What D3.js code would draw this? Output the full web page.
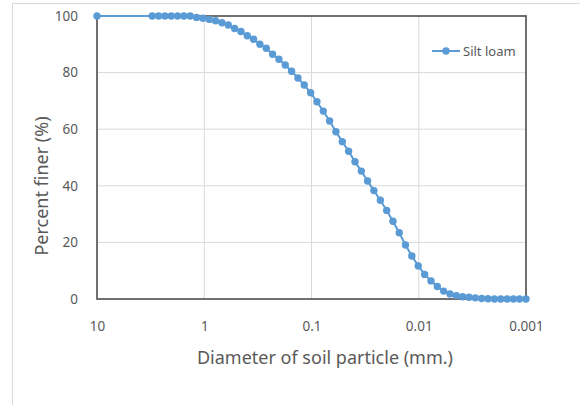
<!DOCTYPE html>
<html>
<head>
<meta charset="utf-8">
<script src="https://cdn.jsdelivr.net/npm/d3@7"></script>
<style>
  body { margin: 0; background: #fff; }
  text { font-family: "Noto Sans", "Open Sans", sans-serif; fill: #595959; }
</style>
</head>
<body>
<div id="chart"></div>
<script>
// diameter (mm) and percent finer
const diameters = [10,
  3.055, 2.666, 2.327, 2.032, 1.773, 1.547, 1.351, 1.179, 1.029, 0.898,
  0.784, 0.684, 0.597, 0.521, 0.455, 0.397, 0.347, 0.303, 0.264, 0.2305,
  0.2012, 0.1756, 0.1533, 0.1338, 0.1168, 0.1019, 0.0890, 0.0777, 0.0678, 0.0592,
  0.0516, 0.0451, 0.0393, 0.0343, 0.0300, 0.0262, 0.0228, 0.0199, 0.0174, 0.0152,
  0.0133, 0.0116, 0.0101, 0.00881, 0.00769, 0.00671, 0.00586, 0.00511, 0.00446, 0.00390,
  0.00340, 0.00297, 0.00259, 0.00226, 0.00197, 0.00172, 0.00150, 0.00131, 0.00115, 0.001];
const percentFiner = [100,
  100, 100, 100, 100, 100, 100, 100, 99.5, 99.2, 98.8,
  98.3, 97.6, 96.8, 95.6, 94.5, 93.0, 91.8, 90.0, 88.6, 86.5,
  84.7, 82.7, 80.5, 78.1, 75.6, 72.9, 69.7, 66.4, 62.9, 59.1,
  55.6, 52.2, 48.5, 45.2, 41.7, 38.3, 34.9, 31.3, 27.5, 23.4,
  19.1, 15.2, 11.7, 8.7, 6.4, 4.4, 2.8, 1.8, 1.2, 0.8,
  0.6, 0.4, 0.2, 0.1, 0, 0, 0, 0, 0, 0];
const xTicks = [10, 1, 0.1, 0.01, 0.001];
const xTickLabels = ["10", "1", "0.1", "0.01", "0.001"];
const yTicks = [0, 20, 40, 60, 80, 100];
const seriesName = "Silt loam";

const data = diameters.map((d, i) => ({ d: d, p: percentFiner[i] }));

const W = 580, H = 405;
const plotLeft = 97, plotRight = 526, plotTop = 16, plotBottom = 299;
const blue = "#5b9bd5";

const svg = d3.select("#chart").append("svg")
    .attr("width", W)
    .attr("height", H);

// chart area frame
svg.append("rect")
    .attr("x", 12.5).attr("y", 3.5)
    .attr("width", 600).attr("height", 450)
    .attr("fill", "#fff")
    .attr("stroke", "#d9d9d9");

const x = d3.scaleLog().domain([10, 0.001]).range([plotLeft, plotRight]);
const y = d3.scaleLinear().domain([0, 100]).range([plotBottom, plotTop]);

// grid
svg.append("g")
    .selectAll("line")
    .data(xTicks.slice(1, -1))
    .enter().append("line")
    .attr("x1", d => x(d)).attr("x2", d => x(d))
    .attr("y1", plotTop).attr("y2", plotBottom)
    .attr("stroke", "#d9d9d9").attr("stroke-width", 1);

svg.append("g")
    .selectAll("line")
    .data(yTicks.slice(1, -1))
    .enter().append("line")
    .attr("x1", plotLeft).attr("x2", plotRight)
    .attr("y1", d => y(d)).attr("y2", d => y(d))
    .attr("stroke", "#d9d9d9").attr("stroke-width", 1);

// plot border
svg.append("rect")
    .attr("x", plotLeft).attr("y", plotTop)
    .attr("width", plotRight - plotLeft).attr("height", plotBottom - plotTop)
    .attr("fill", "none")
    .attr("stroke", "#606060")
    .attr("stroke-width", 1.8);

// axes labels
const xAxis = d3.axisBottom(x)
    .tickValues(xTicks)
    .tickFormat((d, i) => xTickLabels[i])
    .tickSize(0).tickPadding(0);
const gx = svg.append("g")
    .attr("transform", "translate(0," + plotBottom + ")")
    .call(xAxis);
gx.select(".domain").remove();
gx.selectAll("text")
    .attr("y", 28).attr("dy", "0.32em")
    .style("font-size", "13.5px");

const yAxis = d3.axisLeft(y)
    .tickValues(yTicks)
    .tickSize(0).tickPadding(0);
const gy = svg.append("g")
    .attr("transform", "translate(78,0)")
    .call(yAxis);
gy.select(".domain").remove();
gy.selectAll("text")
    .style("font-size", "13.5px");

// axis titles
svg.append("text")
    .attr("x", 325).attr("y", 358)
    .attr("dy", "0.35em")
    .attr("text-anchor", "middle")
    .style("font-size", "18px")
    .text("Diameter of soil particle (mm.)");

svg.append("text")
    .attr("transform", "translate(42,186) rotate(-90)")
    .attr("dy", "0.35em")
    .attr("text-anchor", "middle")
    .style("font-size", "18px")
    .text("Percent finer (%)");

// series
const line = d3.line()
    .x(d => x(d.d))
    .y(d => y(d.p));

svg.append("path")
    .datum(data)
    .attr("fill", "none")
    .attr("stroke", blue)
    .attr("stroke-width", 2)
    .attr("d", line);

svg.append("g")
    .selectAll("circle")
    .data(data)
    .enter().append("circle")
    .attr("cx", d => x(d.d))
    .attr("cy", d => y(d.p))
    .attr("r", 3.7)
    .attr("fill", blue);

// legend
const lg = svg.append("g").attr("transform", "translate(432,51)");
lg.append("line")
    .attr("x1", 0).attr("x2", 28)
    .attr("stroke", blue).attr("stroke-width", 2);
lg.append("circle")
    .attr("cx", 14).attr("r", 3.7)
    .attr("fill", blue);
lg.append("text")
    .attr("x", 31).attr("dy", "0.35em")
    .style("font-size", "13px")
    .text(seriesName);
</script>
</body>
</html>
